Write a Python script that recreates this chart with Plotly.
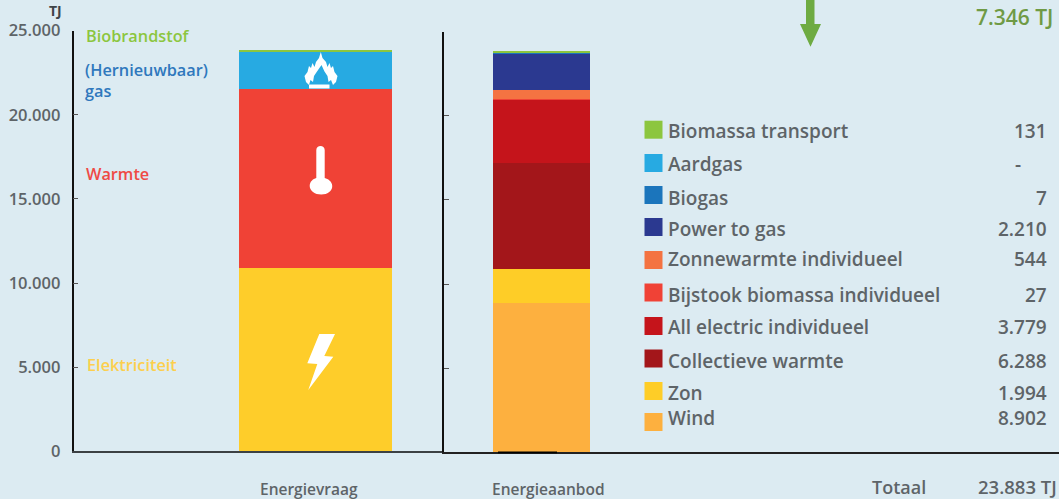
import plotly.graph_objects as go

# ---- data ----
demand_category = ["Energievraag"]
supply_category = ["Energieaanbod"]
demand_names = ["Elektriciteit", "Warmte", "(Hernieuwbaar)<br>gas", "Biobrandstof"]
demand_values = [10896, 10638, 2217, 131]
supply_names = ["Wind", "Zon", "Collectieve warmte", "All electric individueel",
                "Bijstook biomassa individueel", "Zonnewarmte individueel",
                "Power to gas", "Biogas", "Aardgas", "Biomassa transport"]
supply_values = [8902, 1994, 6288, 3779, 27, 544, 2210, 7, 0, 131]
total_label = "Totaal"
total_value = 23883
saving_value = 7346
unit = "TJ"
y_ticks = [0, 5000, 10000, 15000, 20000, 25000]

# ---- style ----
W, H = 1059, 499
BG = "#dcebf2"
GREY = "#5e6468"
FONT = "Open Sans"
demand_colors = ["#fecd2a", "#f04236", "#27aae2", "#8cc63f"]
demand_text = ["#fccf4d", "#ef4a45", "#2f78bd", "#8cc63f"]
supply_colors = ["#fdb03f", "#fecd27", "#a3161a", "#c5141b", "#f04236",
                 "#f47342", "#2b3990", "#1b75bc", "#27aae2", "#8cc63f"]
legend_box_y = [422, 391, 358.5, 326, 292.5, 260, 227, 195, 163, 129.7]
legend_text_y = [417.5, 392.5, 360.5, 326.5, 294.5, 258.5, 229.5, 197.5, 163.5, 130.5]
demand_label_y = [365, 173.5, 80.5, 36]
demand_label_x = [85, 83.5, 82.5, 83.5]


def px(x):
    return x / W


def py(y):
    return 1 - y / H


fig = go.Figure()
for name, value, color in zip(demand_names, demand_values, demand_colors):
    fig.add_trace(go.Bar(x=demand_category, y=[value], name=name, marker_color=color,
                         marker_line_width=0, width=1, xaxis="x", yaxis="y"))
for name, value, color in zip(supply_names, supply_values, supply_colors):
    fig.add_trace(go.Bar(x=supply_category, y=[value], name=name, marker_color=color,
                         marker_line_width=0, width=1, xaxis="x2", yaxis="y2"))

shapes = []
annotations = []


def text(s, x, y, color=GREY, size=19, anchor="left", weight=600):
    annotations.append(dict(text=s, x=px(x), y=py(y), xref="paper", yref="paper",
                            showarrow=False, xanchor=anchor, yanchor="middle",
                            align="left", borderpad=0,
                            font=dict(family=FONT, size=size, color=color, weight=weight)))


def polygon(points, color):
    d = "M " + " L ".join(f"{px(x):.5f} {py(y):.5f}" for x, y in points) + " Z"
    shapes.append(dict(type="path", path=d, xref="paper", yref="paper",
                       fillcolor=color, line_width=0, layer="above"))


def nl(v):
    return f"{v:,}".replace(",", ".") if v else "-"


# demand labels
for s, c, y, x in zip(demand_names, demand_text, demand_label_y, demand_label_x):
    annotations.append(dict(text=s, x=px(x), y=py(y), xref="paper", yref="paper",
                            showarrow=False, xanchor="left", yanchor="middle", align="left",
                            font=dict(family=FONT, size=16.3, color=c, weight=600)))

# legend table
for n, v, c, by, ty in zip(supply_names, supply_values, supply_colors, legend_box_y, legend_text_y):
    shapes.append(dict(type="rect", xref="paper", yref="paper", x0=px(644.5), x1=px(662.5),
                       y0=py(by - 9), y1=py(by + 9), fillcolor=c, line_width=0))
    text(n, 667, ty)
    text(nl(v), 1048 if v else 1022, ty, anchor="right")

text(unit, 63, 10.5, color="#3f4448", size=14, anchor="right", weight=700)
text(demand_category[0], 308.5, 488.5, size=15.5, anchor="center")
text(supply_category[0], 548.5, 488.5, size=15.5, anchor="center")
text(total_label, 927, 486.5, size=18, anchor="right")
text(f"{nl(total_value)} {unit}", 1058, 486.5, size=18.5, anchor="right")
text(f"{nl(saving_value)} {unit}", 1054, 17, color="#6f9a45", size=21, anchor="right", weight=600)

# arrow
polygon([(806, -2), (814.5, -2), (814.5, 24), (821, 24), (810.5, 46.7), (800, 24), (806, 24)], "#6eab42")
# lightning bolt
polygon([(319.3, 334), (335, 334), (324.3, 356), (333.3, 356.7), (308.3, 390), (317.3, 364), (307.3, 363.3)], "white")
# thermometer
d = (f"M {px(316.3)} {py(150)} C {px(316.3)} {py(144.5)} {px(324.7)} {py(144.5)} {px(324.7)} {py(150)} "
     f"L {px(324.7)} {py(178)} C {px(336)} {py(181)} {px(334.5)} {py(194.5)} {px(321.3)} {py(194.5)} "
     f"C {px(308)} {py(194.5)} {px(306)} {py(181)} {px(316.3)} {py(178)} Z")
shapes.append(dict(type="path", path=d, xref="paper", yref="paper", fillcolor="white", line_width=0))
# flame
polygon([(320.8, 52), (322.5, 58), (326, 62), (327.5, 67), (329.5, 63), (331, 68), (333, 66), (334.5, 72),
         (337.5, 76), (336, 82), (333, 85), (331, 80), (328.5, 82), (327.5, 76), (324.5, 71.5), (321.5, 65),
         (317, 71.5), (314, 76), (313, 82), (310.5, 80), (309, 85), (306, 82), (304.5, 76),
         (307.5, 72), (309, 66), (311, 68), (312.5, 63), (314.5, 67), (316, 62), (319, 58)], "white")
shapes.append(dict(type="rect", xref="paper", yref="paper", x0=px(309), x1=px(329.5),
                   y0=py(84.5), y1=py(88.5), fillcolor="white", line_width=0))

# thick stroke beneath the supply bar
shapes.append(dict(type="rect", xref="paper", yref="paper", x0=px(498), x1=px(557),
                   y0=py(451.5), y1=py(453.2), fillcolor="#000000", line_width=0))

axis_common = dict(showgrid=False, zeroline=False, fixedrange=True)
y_common = dict(range=[0, 25000], tickvals=y_ticks, ticks="inside", ticklen=5, tickwidth=1,
                tickcolor="#555555", showline=True, linecolor="#111111", linewidth=1.6, **axis_common)

fig.update_layout(
    width=W, height=H, autosize=False,
    margin=dict(l=0, r=0, t=0, b=0, autoexpand=False),
    paper_bgcolor=BG, plot_bgcolor=BG,
    barmode="stack", showlegend=False, separators=",.",
    xaxis=dict(domain=[px(73.5), px(444)], range=[-1.582, 0.840], type="category", showticklabels=False,
               ticks="", anchor="y", showline=True, linecolor="#3c4144", linewidth=1.6, **axis_common),
    xaxis2=dict(domain=[px(444), 1], range=[-1.005, 5.335], type="category", showticklabels=False,
                ticks="", anchor="y2", showline=True, linecolor="#222222", linewidth=1.6,
                layer="below traces", **axis_common),
    yaxis=dict(domain=[py(451.3), py(30.7)], tickformat=",d", anchor="x", ticklabelstandoff=8,
               tickfont=dict(family=FONT, size=16.5, color=GREY, weight=600), **y_common),
    yaxis2=dict(domain=[py(452.3), py(31.7)], showticklabels=False, anchor="x2", **y_common),
    shapes=shapes, annotations=annotations,
)
fig.write_html("out.html", config=dict(displayModeBar=False),
               post_script="document.body.style.margin='0';")
